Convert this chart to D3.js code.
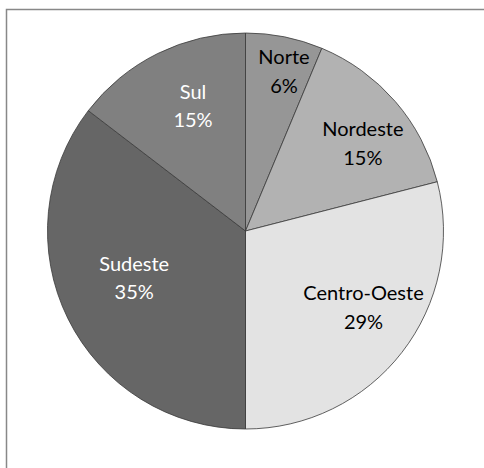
<!DOCTYPE html>
<html><head><meta charset="utf-8">
<script src="https://cdn.jsdelivr.net/npm/d3@7"></script>
<style>html,body{margin:0;padding:0;background:#fff;}</style>
</head><body>
<svg id="chart" width="484" height="468"></svg>
<script>
const categories = ["Norte", "Nordeste", "Centro-Oeste", "Sudeste", "Sul"];
const values = [6.3, 14.7, 29.0, 35.4, 14.6];
const percentLabels = ["6%", "15%", "29%", "35%", "15%"];

const fills = ["#969696", "#b2b2b2", "#e3e3e3", "#666666", "#808080"];
const textColors = ["#000", "#000", "#000", "#fff", "#fff"];
// label layout (best-fit placement): radius fraction and angular nudge in degrees
const labelRadiusFrac = [0.83, 0.74, 0.71, 0.61, 0.685];
const labelAngleNudge = [2.2, 4.1, -4.9, 3.4, 3.5];

const svg = d3.select("#chart");
svg.append("rect").attr("x", 6.5).attr("y", 9.5).attr("width", 490).attr("height", 470)
  .attr("fill", "#fff").attr("stroke", "#888").attr("stroke-width", 1.5);

const cx = 245.5, cy = 231, r = 198;
const g = svg.append("g").attr("transform", `translate(${cx},${cy})`);
const data = categories.map((c, i) => ({name: c, value: values[i], pct: percentLabels[i], i}));
const pie = d3.pie().value(d => d.value).sort(null);
const arcs = pie(data);
const arc = d3.arc().innerRadius(0).outerRadius(r);

g.selectAll("path").data(arcs).join("path")
  .attr("d", arc)
  .attr("fill", d => fills[d.data.i])
  .attr("stroke", "#3a3a3a").attr("stroke-width", 0.8);

const font = "Lato, 'Open Sans', sans-serif";
arcs.forEach(d => {
  const i = d.data.i;
  const lr = r * labelRadiusFrac[i];
  const a = (d.startAngle + d.endAngle) / 2 + labelAngleNudge[i] * Math.PI / 180;
  const x = lr * Math.sin(a), y = -lr * Math.cos(a);
  const t = g.append("text").attr("text-anchor", "middle")
    .attr("font-family", font).attr("font-size", 20)
    .attr("fill", textColors[i]);
  t.append("tspan").attr("x", x).attr("y", y - 7).text(d.data.name);
  t.append("tspan").attr("x", x).attr("y", y + 21.5).text(d.data.pct);
});
</script>
</body></html>
